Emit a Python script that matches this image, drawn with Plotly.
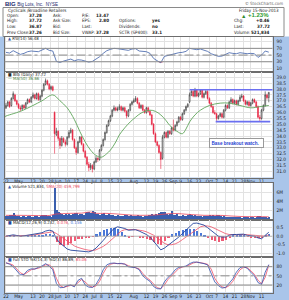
import plotly.graph_objects as go

W, H = 289, 300
def px(x): return x / W
def py(y): return 1 - y / H

FONT = "Liberation Sans, Arial, sans-serif"
NARROW = "Liberation Sans Narrow, Arial Narrow, DejaVu Sans Condensed, Liberation Sans, sans-serif"

# ---------------- data (trading-day index 0 = 22-Apr-2013 ... 146 = 15-Nov-2013)
days = list(range(147))
tick_pos = [0, 7, 15, 20, 25, 29, 34, 39, 44, 49, 53, 58, 63, 71, 78, 83, 88, 93, 97, 102, 107, 113, 117, 122, 127, 132, 136, 142]
tick_text = ["22", "May", "13", "20", "28", "Jun", "10", "17", "24", "Jul", "8", "15", "22", "Aug", "12", "19", "26", "Sep", "9", "16", "23", "Oct", "7", "14", "21", "28", "Nov", "11"]

opens = [36.4, 36.6, 36.9, 36.6, 37.2, 37.5, 37.0, 36.7, 36.4, 36.3,
         36.6, 36.4, 36.8, 37.1, 36.9, 37.3, 37.5, 37.2, 37.6, 37.1,
         37.4, 37.9, 38.4, 38.7, 38.4, 38.0, 38.2, 36.0, 34.1, 34.4,
         33.8, 33.2, 33.8, 33.5, 33.3, 33.9, 34.3, 34.5, 33.7, 33.0,
         32.6, 33.5, 33.9, 33.3, 32.7, 32.2, 31.6, 31.3, 31.5, 31.2,
         31.8, 32.1, 32.0, 32.8, 33.2, 33.7, 34.3, 34.9, 35.3, 35.7,
         36.2, 36.4, 36.2, 36.3, 36.5, 36.2, 36.4, 36.1, 35.7, 36.2,
         36.7, 36.9, 37.0, 37.2, 36.8, 36.4, 36.6, 36.2, 36.0, 36.4,
         36.1, 35.8, 35.0, 34.2, 33.5, 33.2, 32.6, 32.1, 33.9, 34.3,
         33.9, 34.4, 34.2, 34.7, 34.5, 34.9, 35.2, 35.6, 35.4, 35.9,
         36.2, 36.5, 36.9, 37.5, 37.8, 37.4, 37.9, 37.4, 37.6, 37.9,
         37.3, 37.6, 37.8, 37.2, 36.8, 36.5, 36.0, 35.9, 35.5, 35.7,
         35.9, 35.6, 36.2, 36.6, 36.4, 36.9, 37.1, 36.8, 37.0, 36.7,
         37.0, 37.3, 37.4, 37.0, 36.7, 36.9, 36.6, 36.8, 37.1, 36.9,
         36.5, 35.6, 35.5, 36.2, 36.6, 37.5, 37.28]
highs = [36.8, 37.0, 37.0, 37.3, 37.8, 37.6, 37.1, 36.8, 36.6, 36.7,
         36.7, 36.9, 37.2, 37.2, 37.4, 37.7, 37.6, 37.7, 37.7, 37.5,
         38.0, 38.5, 38.9, 38.8, 38.5, 38.3, 38.3, 36.1, 34.7, 34.5,
         33.9, 34.0, 33.9, 33.7, 34.0, 34.5, 34.7, 34.6, 33.8, 33.1,
         33.6, 34.0, 34.0, 33.4, 32.8, 32.3, 31.8, 31.7, 31.6, 31.9,
         32.3, 32.2, 32.9, 33.3, 33.8, 34.4, 35.0, 35.4, 35.8, 36.3,
         36.6, 36.5, 36.5, 36.7, 36.6, 36.5, 36.5, 36.2, 36.3, 36.8,
         37.0, 37.2, 37.4, 37.3, 36.9, 36.7, 36.7, 36.3, 36.5, 36.5,
         36.2, 35.9, 35.1, 34.3, 33.6, 33.3, 32.7, 34.1, 34.4, 34.4,
         34.5, 34.5, 34.8, 35.4, 35.0, 35.3, 35.7, 35.7, 36.0, 36.3,
         36.6, 36.8, 37.7, 37.9, 37.9, 38.1, 38.0, 37.7, 38.0, 38.0,
         37.7, 37.9, 37.9, 37.3, 36.9, 36.6, 36.2, 36.0, 35.8, 36.0,
         36.0, 36.3, 36.7, 36.7, 37.0, 37.3, 37.2, 37.1, 37.1, 37.1,
         37.5, 37.6, 37.5, 37.1, 37.0, 37.0, 36.9, 37.2, 37.2, 37.0,
         36.6, 35.8, 36.3, 36.7, 37.8, 37.6, 37.72]
lows = [36.3, 36.5, 36.4, 36.5, 37.1, 36.9, 36.6, 36.3, 36.1, 36.2,
        36.3, 36.3, 36.7, 36.8, 36.8, 37.2, 37.1, 37.1, 37.0, 37.0,
        37.3, 37.8, 38.3, 38.3, 37.9, 37.9, 37.8, 32.5, 34.0, 33.6,
        32.9, 33.1, 33.4, 33.1, 33.2, 33.8, 34.2, 33.6, 32.9, 32.4,
        32.5, 33.4, 33.2, 32.6, 32.1, 31.5, 31.0, 31.1, 30.9, 31.1,
        31.7, 31.8, 31.9, 32.7, 33.1, 33.6, 34.2, 34.8, 35.2, 35.6,
        36.1, 36.1, 36.1, 36.2, 36.1, 36.1, 36.0, 35.5, 35.6, 36.1,
        36.6, 36.8, 36.9, 36.7, 36.3, 36.3, 36.1, 35.9, 35.9, 36.0,
        35.7, 34.9, 34.1, 33.4, 33.1, 32.5, 31.2, 32.0, 33.8, 33.8,
        33.8, 34.1, 34.1, 34.4, 34.4, 34.8, 35.1, 35.3, 35.3, 35.8,
        36.1, 36.4, 36.8, 37.4, 37.3, 37.3, 37.3, 37.3, 37.5, 37.2,
        37.2, 37.5, 37.1, 36.7, 36.4, 35.9, 35.8, 35.3, 35.4, 35.6,
        35.5, 35.5, 36.1, 36.3, 36.3, 36.8, 36.7, 36.7, 36.6, 36.6,
        36.9, 37.2, 36.9, 36.6, 36.6, 36.5, 36.5, 36.7, 36.8, 36.4,
        35.5, 35.2, 35.4, 36.1, 36.5, 37.1, 36.87]
closes = [36.6, 36.9, 36.5, 37.2, 37.6, 37.0, 36.7, 36.4, 36.3, 36.6,
          36.4, 36.8, 37.1, 36.9, 37.3, 37.5, 37.2, 37.6, 37.1, 37.4,
          37.9, 38.4, 38.7, 38.4, 38.0, 38.2, 37.9, 34.2, 34.4, 33.8,
          33.2, 33.8, 33.5, 33.3, 33.9, 34.3, 34.5, 33.7, 33.0, 32.6,
          33.5, 33.9, 33.3, 32.7, 32.2, 31.6, 31.3, 31.5, 31.2, 31.8,
          32.1, 32.0, 32.8, 33.2, 33.7, 34.3, 34.9, 35.3, 35.7, 36.2,
          36.4, 36.2, 36.3, 36.5, 36.2, 36.4, 36.1, 35.7, 36.2, 36.7,
          36.9, 37.0, 37.2, 36.8, 36.4, 36.6, 36.2, 36.0, 36.4, 36.1,
          35.8, 35.0, 34.2, 33.5, 33.2, 32.6, 32.0, 33.9, 34.3, 33.9,
          34.4, 34.2, 34.7, 34.5, 34.9, 35.2, 35.6, 35.4, 35.9, 36.2,
          36.5, 36.7, 37.5, 37.8, 37.4, 37.9, 37.4, 37.6, 37.9, 37.3,
          37.6, 37.8, 37.2, 36.8, 36.5, 36.0, 35.9, 35.5, 35.7, 35.9,
          35.6, 36.2, 36.6, 36.4, 36.9, 37.1, 36.8, 37.0, 36.7, 37.0,
          37.3, 37.4, 37.0, 36.7, 36.9, 36.6, 36.8, 37.1, 36.9, 36.5,
          35.6, 35.5, 36.2, 36.6, 37.5, 37.26, 37.72]
volume_m = [0.8, 0.7, 0.9, 1.0, 1.5, 1.1, 0.8, 0.7, 0.6, 0.8,
            0.7, 0.6, 0.7, 0.8, 0.5, 0.6, 0.7, 0.8, 0.6, 0.7,
            0.9, 1.0, 1.1, 0.8, 0.7, 0.6, 0.9, 7.1, 2.2, 1.6,
            1.4, 1.3, 1.1, 1.2, 1.0, 1.3, 1.1, 1.2, 1.4, 1.5,
            1.0, 1.3, 1.2, 1.1, 1.4, 1.6, 1.7, 1.5, 1.8, 1.6,
            1.3, 1.2, 1.1, 1.2, 1.4, 1.1, 1.0, 1.2, 0.9, 1.0,
            0.8, 0.7, 0.9, 0.8, 0.7, 0.8, 0.9, 1.0, 0.8, 0.9,
            0.8, 0.7, 0.8, 0.9, 0.8, 0.7, 0.6, 0.8, 0.7, 0.9,
            1.0, 1.2, 1.1, 1.3, 1.1, 1.5, 1.6, 1.7, 1.6, 1.3,
            1.0, 1.2, 2.0, 1.0, 0.9, 1.2, 0.8, 0.7, 0.9, 0.8,
            0.7, 0.9, 1.3, 1.0, 0.8, 0.9, 0.7, 0.8, 0.7, 0.6,
            0.7, 0.8, 0.7, 0.9, 0.8, 1.0, 0.8, 1.1, 0.9, 0.8,
            0.6, 0.7, 0.6, 0.5, 0.5, 0.6, 0.6, 0.5, 0.5, 0.6,
            0.5, 0.4, 0.5, 0.6, 0.5, 0.4, 0.5, 0.5, 0.4, 0.5,
            0.8, 0.7, 0.6, 0.5, 0.6, 0.4, 0.52]

ma_idx = [-1, 0, 4, 8, 15, 20, 26, 30, 34, 38, 41, 44, 47, 50, 53, 56, 58, 61, 63, 66, 69, 72, 75, 80, 83, 86, 89, 91, 95, 98, 100, 102, 105, 108, 113, 119, 124, 130, 136, 141, 146]
ma50 = [35.6, 35.7, 35.9, 36.1, 36.6, 37.0, 37.5, 37.0, 36.4, 35.4, 34.4, 33.5, 32.8, 32.35, 32.2, 32.5, 32.8, 33.5, 34.1, 34.7, 35.2, 35.6, 35.95, 36.2, 36.1, 35.8, 35.3, 34.9, 34.4, 34.2, 34.6, 35.2, 35.8, 36.2, 36.6, 36.8, 36.8, 36.6, 36.4, 36.5, 36.6]

vsma_idx = [0, 6, 12, 18, 24, 27, 30, 36, 42, 47, 50, 55, 60, 65, 70, 75, 80, 85, 90, 95, 100, 105, 110, 115, 120, 125, 130, 135, 140, 146]
vol_sma20 = [0.8, 0.8, 0.78, 0.75, 0.76, 1.05, 1.15, 1.25, 1.3, 1.55, 1.25, 1.25, 1.15, 1.0, 0.85, 0.8, 0.82, 0.95, 1.15, 1.2, 1.05, 0.92, 0.8, 0.8, 0.78, 0.65, 0.55, 0.5, 0.52, 0.46]

ind_idx = list(range(0, 147, 2))
rsi14 = [58, 56, 63, 57, 52, 55, 60, 62, 61, 60, 65, 70, 64, 62, 31, 28, 32, 34, 38, 33,
         36, 35, 32, 29, 31, 38, 45, 55, 63, 67, 70, 69, 67, 66, 64, 68, 69, 62, 60, 60,
         55, 40, 33, 27, 46, 49, 52, 53, 57, 58, 61, 70, 68, 66, 68, 64, 61, 54, 49, 46,
         47, 53, 57, 55, 54, 57, 55, 54, 55, 54, 43, 50, 62, 58.6]
macd_line = [0.0, 0.04, 0.08, 0.04, 0.0, 0.02, 0.05, 0.1, 0.15, 0.17, 0.2, 0.3, 0.35, 0.3, -0.15, -0.4, -0.6, -0.75, -0.82, -0.85,
             -0.85, -0.88, -0.9, -0.92, -0.85, -0.7, -0.5, -0.25, 0.0, 0.25, 0.45, 0.55, 0.52, 0.45, 0.35, 0.35, 0.38, 0.3, 0.2, 0.1,
             -0.05, -0.3, -0.55, -0.8, -0.7, -0.55, -0.4, -0.25, -0.05, 0.15, 0.35, 0.55, 0.75, 0.77, 0.72, 0.65, 0.5, 0.35, 0.15, 0.0,
             -0.05, -0.05, 0.05, 0.1, 0.1, 0.12, 0.12, 0.05, 0.02, 0.0, -0.1, -0.15, 0.05, 0.232]
macd_signal = [0.02, 0.02, 0.03, 0.04, 0.03, 0.02, 0.03, 0.05, 0.08, 0.11, 0.14, 0.18, 0.23, 0.26, 0.16, 0.02, -0.15, -0.3, -0.45, -0.57,
               -0.66, -0.73, -0.78, -0.82, -0.84, -0.8, -0.72, -0.6, -0.45, -0.25, -0.05, 0.15, 0.3, 0.38, 0.4, 0.39, 0.38, 0.36, 0.32, 0.26,
               0.18, 0.06, -0.1, -0.28, -0.42, -0.5, -0.5, -0.45, -0.35, -0.2, -0.05, 0.12, 0.3, 0.45, 0.55, 0.6, 0.6, 0.55, 0.45, 0.35,
               0.25, 0.15, 0.1, 0.08, 0.08, 0.09, 0.1, 0.09, 0.07, 0.05, 0.02, -0.02, 0.0, 0.076]
macd_hist = [-0.02, 0.02, 0.05, 0.0, -0.03, 0.0, 0.02, 0.05, 0.07, 0.06, 0.06, 0.12, 0.12, 0.04, -0.35, -0.5, -0.55, -0.5, -0.4, -0.28,
             -0.19, -0.15, -0.12, -0.1, -0.01, 0.1, 0.22, 0.35, 0.45, 0.5, 0.5, 0.4, 0.22, 0.07, -0.05, -0.04, 0.0, -0.06, -0.12, -0.16,
             -0.23, -0.36, -0.45, -0.52, -0.28, -0.05, 0.1, 0.2, 0.3, 0.35, 0.4, 0.43, 0.45, 0.32, 0.17, 0.05, -0.1, -0.2, -0.3, -0.35,
             -0.3, -0.2, -0.05, 0.02, 0.02, 0.03, 0.02, -0.04, -0.05, -0.05, -0.12, -0.13, 0.05, 0.156]
sto_k = [93, 88, 80, 65, 53, 55, 68, 73, 72, 78, 82, 90, 82, 70, 25, 11, 12, 18, 20, 14,
         35, 42, 20, 13, 12, 22, 42, 70, 86, 91, 92, 90, 91, 88, 80, 78, 77, 70, 50, 40,
         32, 15, 8, 7, 30, 45, 55, 70, 78, 80, 82, 90, 95, 95, 93, 90, 86, 60, 30, 18,
         10, 12, 25, 40, 62, 77, 80, 75, 62, 50, 28, 22, 62, 86.89]
sto_d = [92, 90, 85, 72, 60, 54, 62, 70, 73, 75, 80, 86, 86, 76, 42, 18, 12, 15, 19, 17,
         27, 38, 30, 18, 13, 17, 32, 58, 78, 88, 91, 91, 90, 89, 83, 79, 77, 73, 58, 45,
         36, 22, 11, 8, 20, 38, 50, 62, 74, 79, 81, 86, 92, 95, 94, 91, 88, 72, 42, 24,
         14, 11, 18, 32, 52, 70, 78, 77, 67, 55, 36, 24, 45, 85.06]

level_prices = [37.94, 35.23]
level_start = [102, 116.5]
level_end = [148.5, 146.8]

# ---------------- figure
fig = go.Figure()

XDOM = [px(4.5), px(272.5)]
XR = [-0.83, 148.06]
UP_C, DN_C = "#2b2b2b", "#e8213f"

# RSI panel (x1,y1)
fig.add_trace(go.Scatter(x=ind_idx, y=[30] * len(ind_idx), mode="lines", line=dict(width=0, color="rgba(0,0,0,0)"),
                         xaxis="x", yaxis="y", hoverinfo="skip", showlegend=False))
fig.add_trace(go.Scatter(x=ind_idx, y=[min(v, 30) for v in rsi14], mode="lines", line=dict(width=0, color="rgba(0,0,0,0)"),
                         fill="tonexty", fillcolor="rgba(232,33,63,0.75)", xaxis="x", yaxis="y", showlegend=False))
fig.add_trace(go.Scatter(x=ind_idx, y=rsi14, mode="lines", line=dict(color="#3d5fa8", width=0.8),
                         xaxis="x", yaxis="y", showlegend=False))

# Price panel (x2,y2)
fig.add_trace(go.Candlestick(x=days, open=opens, high=highs, low=lows, close=closes,
                             increasing=dict(line=dict(color=UP_C, width=0.6), fillcolor="#ffffff"),
                             decreasing=dict(line=dict(color=DN_C, width=0.6), fillcolor=DN_C),
                             whiskerwidth=0, xaxis="x2", yaxis="y2", showlegend=False))
fig.add_trace(go.Scatter(x=ma_idx, y=ma50, mode="lines", line=dict(color="#5fa55a", width=0.9, shape="spline"),
                         xaxis="x2", yaxis="y2", showlegend=False))
for lv, s, e in zip(level_prices, level_start, level_end):
    fig.add_trace(go.Scatter(x=[s, e], y=[lv, lv], mode="lines", line=dict(color="#6a6ff0", width=1.6),
                             xaxis="x2", yaxis="y2", showlegend=False))

# Volume panel (x3,y3)
fig.add_trace(go.Bar(x=days, y=volume_m, marker=dict(color="#3a5fae", line=dict(width=0)), width=0.75,
                     xaxis="x3", yaxis="y3", showlegend=False))
fig.add_trace(go.Scatter(x=vsma_idx, y=vol_sma20, mode="lines", line=dict(color="#e8455a", width=0.8, shape="spline"),
                         xaxis="x3", yaxis="y3", showlegend=False))

# MACD panel (x4,y4)
fig.add_trace(go.Bar(x=ind_idx, y=macd_hist, width=1.3,
                     marker=dict(color=["#4a78d8" if v >= 0 else "#ee5c76" for v in macd_hist], line=dict(width=0)),
                     xaxis="x4", yaxis="y4", showlegend=False))
fig.add_trace(go.Scatter(x=ind_idx, y=macd_signal, mode="lines", line=dict(color="#ee4f66", width=0.8),
                         xaxis="x4", yaxis="y4", showlegend=False))
fig.add_trace(go.Scatter(x=ind_idx, y=macd_line, mode="lines", line=dict(color="#23449c", width=0.9),
                         xaxis="x4", yaxis="y4", showlegend=False))

# STO panel (x5,y5)
fig.add_trace(go.Scatter(x=ind_idx, y=sto_d, mode="lines", line=dict(color="#ee4f66", width=0.8),
                         xaxis="x5", yaxis="y5", showlegend=False))
fig.add_trace(go.Scatter(x=ind_idx, y=sto_k, mode="lines", line=dict(color="#3050b0", width=0.8),
                         xaxis="x5", yaxis="y5", showlegend=False))

GRID = "#e2e2e2"
BORDER = "#6d6d6d"
TICKF = dict(family=NARROW, size=4.8, color="#222")

def xax(dom_anchor, labels):
    return dict(domain=XDOM, range=XR, anchor=dom_anchor, showgrid=True, gridcolor=GRID, gridwidth=1,
                tickmode="array", tickvals=tick_pos, ticktext=tick_text, showticklabels=labels,
                ticks="", tickangle=0, tickfont=TICKF, showline=True, linecolor=BORDER, linewidth=1, mirror=True,
                zeroline=False, rangeslider=dict(visible=False), fixedrange=True, ticklabelstandoff=-1)

def yax(dom, rng, tv, tt, anchor):
    return dict(domain=dom, range=rng, anchor=anchor, side="right", showgrid=True, gridcolor=GRID, gridwidth=1,
                tickmode="array", tickvals=tv, ticktext=tt, ticks="", tickfont=TICKF,
                showline=True, linecolor=BORDER, linewidth=1, mirror=True, zeroline=False, fixedrange=True,
                ticklabelstandoff=2)

price_ticks = [31.0 + 0.5 * k for k in range(17)]

fig.update_layout(
    width=W, height=H, margin=dict(l=0, r=0, t=0, b=0),
    paper_bgcolor="#a9c5ea", plot_bgcolor="#ffffff",
    font=dict(family=FONT, size=5, color="#222"), bargap=0,
    xaxis=xax("y", False),
    xaxis2=xax("y2", True),
    xaxis3=xax("y3", False),
    xaxis4=xax("y4", False),
    xaxis5=xax("y5", True),
    yaxis=yax([py(71.5), py(37)], [0.9, 103.9], [10, 30, 50, 70, 90], ["10", "30", "50", "70", "90"], "x"),
    yaxis2=yax([py(177.5), py(72)], [30.47, 39.45], price_ticks, ["%.1f" % v for v in price_ticks], "x2"),
    yaxis3=yax([py(219.5), py(182.5)], [-0.14, 8.2], [2, 4, 6], ["2M", "4M", "6M"], "x3"),
    yaxis4=yax([py(256.5), py(220)], [-1.19, 0.949], [-1.0, -0.5, 0.0, 0.5], ["-1.0", "-0.5", "0.0", "0.5"], "x4"),
    yaxis5=yax([py(292.5), py(257)], [-4.6, 111.8], [20, 50, 80], ["20", "50", "80"], "x5"),
)

shapes = []
# header background and info box
shapes.append(dict(type="rect", xref="paper", yref="paper", x0=0, x1=1, y0=py(36.5), y1=1,
                   fillcolor="#ffffff", line=dict(width=0), layer="below"))
shapes.append(dict(type="rect", xref="paper", yref="paper", x0=px(3), x1=px(284), y0=py(36.5), y1=py(7.5),
                   fillcolor="#ffffff", line=dict(color="#8a8a8a", width=1), layer="below"))
# reference lines
for ax, vals, dashes in [("y", [70, 30, 50], ["solid", "solid", "dashdot"]),
                         ("y5", [80, 20, 50], ["solid", "solid", "dashdot"])]:
    xr = "x domain" if ax == "y" else "x5 domain"
    for v, d in zip(vals, dashes):
        shapes.append(dict(type="line", xref=xr, yref=ax, x0=0, x1=1, y0=v, y1=v,
                           line=dict(color="#8c8c8c", width=1, dash=d)))
shapes.append(dict(type="line", xref="x4 domain", yref="y4", x0=0, x1=1, y0=0, y1=0,
                   line=dict(color="#b0b0b0", width=0.8)))
fig.update_layout(shapes=shapes)

ann = []
def t(x, y, s, size=4.5, color="#222", anchor="left", bold=False, fam=NARROW):
    ann.append(dict(xref="paper", yref="paper", x=px(x), y=py(y), text=("<b>%s</b>" % s) if bold else s,
                    showarrow=False, xanchor=anchor, yanchor="middle",
                    font=dict(family=fam, size=size, color=color)))

# title row
t(3, 3.8, "<b>BIG</b> <span style='font-size:4.5px'>Big Lots, Inc.  NYSE</span>", size=6, color="#1b2a6e", fam=FONT)
t(285, 3.8, "© StockCharts.com", size=4.3, color="#666", anchor="right")
# info box
t(6, 10.2, "Cyclicals /Broadline Retailers", size=4.5)
t(281, 10.2, "Friday 15-Nov-2013", size=4.5, anchor="right")
rows = [15.4, 20.9, 26.5, 32.2]
for y, lab, val in zip(rows, ["Open:", "High:", "Low:", "Prev Close:"], ["37.28", "37.72", "36.87", "37.26"]):
    t(4.5, y, lab)
    t(44, y, val, anchor="right", bold=True)
for y, lab in zip(rows, ["Ask:", "Ask Size:", "Bid:", "Bid Size:"]):
    t(51, y, lab)
for y, lab, val in zip(rows, ["P/E:", "EPS:", "Last:", "VWAP:"], ["13.47", "2.80", "", "37.28"]):
    t(80, y, lab)
    if val:
        t(111, y, val, anchor="right", bold=True)
for y, lab, val in zip(rows[1:], ["Options:", "Dividends:", "SCTR (SP400):"], ["yes", "no", "33.1"]):
    t(117, y, lab)
    t(150, y, val, bold=True)
t(239, 15.6, "▲", size=5.5, color="#2e8b2e", fam=FONT)
t(271, 15.4, "+1.23%", size=6, color="#2e9a2e", anchor="right", bold=True, fam=FONT)
for y, lab, val in zip(rows[1:], ["Chg:", "Last:", "Volume:"], ["+0.46", "37.72", "521,834"]):
    t(232, y, lab)
    t(272, y, val, anchor="right", bold=True)

# panel legends
t(6, 38.8, "<span style='color:#3d5fa8'>▲</span> RSI(14) 56.48", size=4.3)
t(6, 74.4, "<span style='color:#2b2b2b'>■</span> BIG (Daily) 37.72", size=4.3)
t(6, 78.2, "<span style='color:#5fa55a'>—</span> MA(50) 36.66", size=4.3, color="#3f7f3a")
t(6, 186.0, "<span style='color:#3a5fae'>▲</span> Volume 521,834, <span style='color:#e8455a'>SMA(20) 459,799</span>", size=4.3)
t(6, 222.9, "<span style='color:#23449c'>■</span> MACD(12,26,9) 0.232, <span style='color:#ee4f66'>0.076</span>, <span style='color:#4a78d8'>0.156</span>", size=4.3)
t(6, 259.5, "<span style='color:#3050b0'>■</span> Full STO %K(14,3) %D(3) 86.89, <span style='color:#ee4f66'>85.06</span>", size=4.3)

# note box on price panel
ann.append(dict(xref="x2", yref="y2", x=113, y=33.38, text="<b>Base breakout watch.</b>", showarrow=False,
                xanchor="left", yanchor="middle", font=dict(family=FONT, size=4.6, color="#2a3fd0"),
                bgcolor="#ffffff", bordercolor="#9a9a9a", borderwidth=1, borderpad=1.5, width=50, align="left"))
fig.update_layout(annotations=ann)

fig.write_html("out.html")
